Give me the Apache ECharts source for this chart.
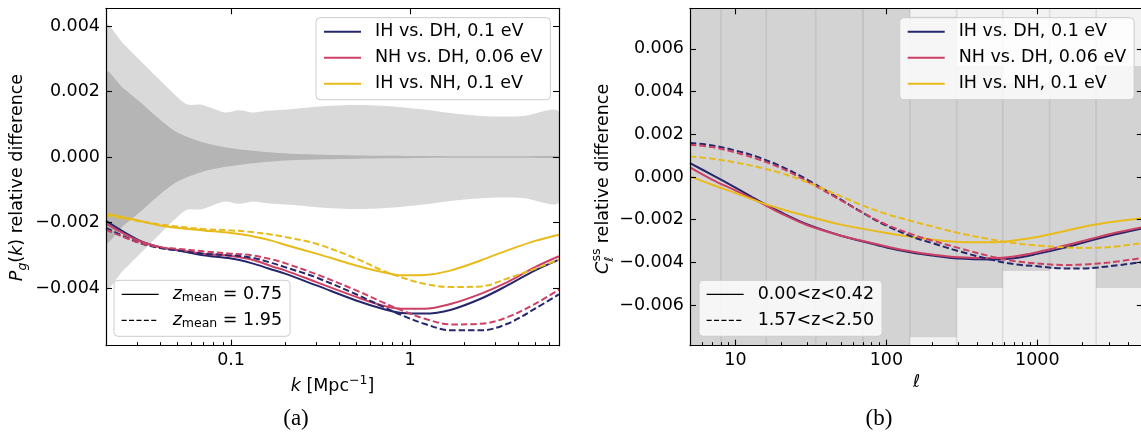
<!DOCTYPE html>
<html><head><meta charset="utf-8">
<script src="https://cdn.jsdelivr.net/npm/echarts@6/dist/echarts.min.js"></script>
<style>html,body{margin:0;padding:0;background:#fff}#c{width:1141px;height:432px}</style>
</head><body><div id="c"></div>
<script>
// ---------------- data ----------------
const legendNames = ['IH vs. DH, 0.1 eV', 'NH vs. DH, 0.06 eV', 'IH vs. NH, 0.1 eV'];
const zNamesLeft = ['z_mean = 0.75', 'z_mean = 1.95'];
const zNamesRight = ['0.00<z<0.42', '1.57<z<2.50'];

// panel (a): P_g(k)
const kRange = [0.02, 6.8];
const kTickLabels = [0.1, 1];
const kMinorTicks = [0.03,0.04,0.05,0.06,0.07,0.08,0.09,0.2,0.3,0.4,0.5,0.6,0.7,0.8,0.9,2,3,4,5,6];
const pgRange = [-0.00576, 0.00454];
const pgTicks = [-0.004, -0.002, 0, 0.002, 0.004];

const kBand = [0.02,0.025,0.031,0.0385,0.0477,0.0567,0.0673,0.0764,0.0926,0.11,0.133,0.158,0.214,0.328,0.503,0.772,1.19,1.82,2.79,4.29,6.8];
const pgOuterSigma = [0.00402,0.00346,0.00295,0.00244,0.00194,0.00161,0.0016,0.00151,0.00136,0.00143,0.00136,0.00141,0.00146,0.00155,0.00159,0.00155,0.00145,0.00132,0.00124,0.00125,0.00137];
const pgInnerSigma = [0.0026,0.0021,0.00168,0.00122,0.00082,0.00062,0.00047,0.00039,0.0003,0.00024,0.00019,0.00015,0.0001,0.00007,0.00005,0.00004,0.00003,0.000025,0.000025,0.000025,0.000025];

const kCurve = [0.02,0.03,0.04,0.05,0.07,0.1,0.13,0.17,0.2,0.3,0.5,0.7,0.9,1.2,1.7,2.5,3.5,5,6.8];
const pgIHDH_z075 = [-0.00195,-0.00252,-0.00275,-0.00285,-0.003,-0.0031,-0.00324,-0.00344,-0.00356,-0.00392,-0.00438,-0.00463,-0.00476,-0.00478,-0.00466,-0.00432,-0.00392,-0.00346,-0.00313];
const pgNHDH_z075 = [-0.00203,-0.00254,-0.00275,-0.00283,-0.00295,-0.00302,-0.00313,-0.00334,-0.00346,-0.00382,-0.00427,-0.00453,-0.00463,-0.00463,-0.00448,-0.00417,-0.00382,-0.00336,-0.00303];
const pgIHNH_z075 = [-0.00173,-0.00193,-0.00209,-0.00216,-0.00224,-0.00232,-0.00241,-0.00256,-0.00268,-0.00295,-0.00331,-0.00351,-0.00361,-0.0036,-0.00346,-0.00315,-0.00285,-0.00256,-0.00237];
const pgIHDH_z195 = [-0.00216,-0.0026,-0.00278,-0.00285,-0.00295,-0.003,-0.00307,-0.00324,-0.00336,-0.00368,-0.00419,-0.00456,-0.00483,-0.00509,-0.00529,-0.00529,-0.00509,-0.00463,-0.00419];
const pgNHDH_z195 = [-0.00222,-0.0026,-0.00275,-0.0028,-0.00288,-0.00295,-0.003,-0.00313,-0.00324,-0.00358,-0.00407,-0.00443,-0.00468,-0.00493,-0.00511,-0.00509,-0.00489,-0.00448,-0.00405];
const pgIHNH_z195 = [-0.00178,-0.00195,-0.00206,-0.00212,-0.0022,-0.00224,-0.00229,-0.00237,-0.00244,-0.00265,-0.0031,-0.00346,-0.00368,-0.00387,-0.00397,-0.00395,-0.00371,-0.00341,-0.00313];

// panel (b): C_ell
const ellRange = [5, 5000];
const ellTickLabels = [10, 100, 1000];
const ellMinorTicks = [6,7,8,9,20,30,40,50,60,70,80,90,200,300,400,500,600,700,800,900,2000,3000,4000];
const clRange = [-0.0079, 0.0079];
const clTicks = [-0.006, -0.004, -0.002, 0, 0.002, 0.004, 0.006];

const ellBinEdges = [5, 8, 16, 34, 70, 143, 292, 590, 1206, 2455, 5000];
const clBinSigma = [0.02, 0.016, 0.013, 0.011, 0.0095, 0.0075, 0.0052, 0.0044, 0.0043, 0.0052];

const ellCurve = [5,7,10,14,20,30,50,70,100,150,200,300,500,700,1000,1500,2000,3000,5000];
const clIHDH_lo = [0.00065,0.0001,-0.0005,-0.00108,-0.00165,-0.00222,-0.00275,-0.00302,-0.0033,-0.00355,-0.00368,-0.00382,-0.00386,-0.0038,-0.0036,-0.00332,-0.00308,-0.00275,-0.0024];
const clNHDH_lo = [0.00045,-0.00012,-0.00063,-0.00113,-0.0017,-0.00226,-0.00275,-0.003,-0.00325,-0.0035,-0.00363,-0.00376,-0.0038,-0.00372,-0.00352,-0.00322,-0.003,-0.00268,-0.00235];
const clIHNH_lo = [0.00003,-0.00036,-0.00075,-0.00114,-0.0015,-0.00184,-0.00223,-0.00243,-0.00262,-0.00281,-0.00293,-0.00304,-0.00306,-0.00297,-0.00281,-0.00254,-0.00234,-0.00212,-0.00192];
const clIHDH_hi = [0.00159,0.00148,0.00124,0.00094,0.0005,-0.00013,-0.00106,-0.00168,-0.00228,-0.00281,-0.00309,-0.00347,-0.00388,-0.00408,-0.00418,-0.00428,-0.00428,-0.00418,-0.00398];
const clNHDH_hi = [0.00151,0.0014,0.00115,0.00084,0.00042,-0.00021,-0.00109,-0.00168,-0.00223,-0.0027,-0.00297,-0.00332,-0.00373,-0.00393,-0.00405,-0.00412,-0.0041,-0.004,-0.00379];
const clIHNH_hi = [0.00096,0.00086,0.00068,0.00047,0.00019,-0.00025,-0.00091,-0.00134,-0.00173,-0.00208,-0.00231,-0.00262,-0.00293,-0.00309,-0.00321,-0.00329,-0.00332,-0.00328,-0.00309];

// ---------------- styling ----------------
const FONT = 'DejaVu Sans';
const FS = 17.5;
const colors = ['#25266b', '#cc4065', '#e8bb1b'];
const DASH = [6.5, 3];
const lg = Math.log10;

function tickFmtY(v) {
  if (Math.abs(v) < 1e-12) return '0.000';
  return (v < 0 ? '\u2212' : '') + Math.abs(v).toFixed(3);
}
function tickFmtX(v) {
  const p = Math.round(v);
  return p < 0 ? Math.pow(10, p).toFixed(-p) : String(Math.round(Math.pow(10, p)));
}

function lineSeries(name, xs, ys, color, dashed, xi, yi) {
  return {
    type: 'line', name, xAxisIndex: xi, yAxisIndex: yi,
    data: xs.map((x, i) => [lg(x), ys[i]]),
    symbol: 'none', showSymbol: false, smooth: 0.35, silent: true, z: 3,
    lineStyle: { color, width: 2, type: dashed ? DASH : 'solid' },
    itemStyle: { color }
  };
}
function dummySeries(name, dashed, xi, yi) {
  return {
    type: 'line', name, xAxisIndex: xi, yAxisIndex: yi, data: [],
    symbol: 'none', lineStyle: { color: '#000', width: 1.3, type: dashed ? [5, 2.4] : 'solid' },
    itemStyle: { color: '#000' }
  };
}

const axisLineStyle = { show: true, onZero: false, lineStyle: { color: '#000', width: 1.2 } };
function mainX(gi, range, labels, pos) {
  const vals = labels.map(lg);
  return {
    type: 'value', gridIndex: gi, position: pos, min: lg(range[0]), max: lg(range[1]), z: 10,
    axisLine: axisLineStyle, splitLine: { show: false },
    axisTick: { show: true, inside: true, length: 6, customValues: vals, lineStyle: { color: '#000', width: 1.1 } },
    axisLabel: pos === 'bottom'
      ? { show: true, customValues: vals, formatter: tickFmtX, margin: 6, color: '#000', fontSize: FS, fontFamily: FONT, showMinLabel: true, showMaxLabel: true }
      : { show: false }
  };
}
function minorX(gi, range, minors) {
  return {
    type: 'value', gridIndex: gi, position: 'bottom', min: lg(range[0]), max: lg(range[1]), z: 10,
    axisLine: { show: false, onZero: false }, splitLine: { show: false }, axisLabel: { show: false },
    axisTick: { show: true, inside: true, length: 3.5, customValues: minors.map(lg), lineStyle: { color: '#000', width: 1 } }
  };
}
function mainY(gi, range, ticks, pos) {
  return {
    type: 'value', gridIndex: gi, position: pos, min: range[0], max: range[1], z: 10,
    axisLine: axisLineStyle, splitLine: { show: false },
    axisTick: { show: true, inside: true, length: 6, customValues: ticks, lineStyle: { color: '#000', width: 1.1 } },
    axisLabel: pos === 'left'
      ? { show: true, customValues: ticks, formatter: tickFmtY, margin: 6, color: '#000', fontSize: FS, fontFamily: FONT }
      : { show: false }
  };
}
function hiddenY(gi, range) {
  return { type: 'value', gridIndex: gi, show: false, min: range[0], max: range[1], axisLine: { onZero: false } };
}

const gridA = { left: 106, top: 8.3, width: 453, height: 337.4, containLabel: false, outerBoundsMode: 'none' };
const gridB = { left: 690, top: 8.3, width: 452.8, height: 337.4, containLabel: false, outerBoundsMode: 'none' };

const series = [];
// panel (a) bands
series.push({
  type: 'custom', xAxisIndex: 0, yAxisIndex: 0, silent: true, z: 1, clip: true,
  data: kBand.map((k, i) => [lg(k), pgOuterSigma[i], pgInnerSigma[i]]),
  renderItem(params, api) {
    if (params.dataIndex !== 0) return null;
    const up = [], lo = [], iup = [], ilo = [];
    for (let i = 0; i < kBand.length; i++) {
      const x = lg(kBand[i]);
      up.push(api.coord([x, pgOuterSigma[i]]));
      lo.push(api.coord([x, -pgOuterSigma[i]]));
      iup.push(api.coord([x, pgInnerSigma[i]]));
      ilo.push(api.coord([x, -pgInnerSigma[i]]));
    }
    return {
      type: 'group', children: [
        { type: 'polygon', shape: { points: up.concat(lo.reverse()), smooth: 0.3 }, style: { fill: '#d9d9d9' } },
        { type: 'polygon', shape: { points: iup.concat(ilo.reverse()), smooth: 0.3 }, style: { fill: '#b5b5b5' } }
      ]
    };
  }
});
// panel (b) bins
series.push({
  type: 'custom', xAxisIndex: 3, yAxisIndex: 3, silent: true, z: 1, clip: true,
  data: clBinSigma.map((s, i) => [lg(ellBinEdges[i]), lg(ellBinEdges[i + 1]), s]),
  renderItem(params, api) {
    const x0 = api.value(0), x1 = api.value(1), s = api.value(2);
    const p0 = api.coord([x0, s]), p1 = api.coord([x1, -s]);
    const cs = params.coordSys;
    const ch = [{ type: 'rect', shape: { x: p0[0], y: p0[1], width: p1[0] - p0[0], height: p1[1] - p0[1] }, style: { fill: '#d3d3d3' } }];
    if (params.dataIndex > 0) {
      ch.push({ type: 'line', shape: { x1: p0[0], y1: cs.y, x2: p0[0], y2: cs.y + cs.height }, style: { stroke: 'rgba(0,0,0,0.09)', lineWidth: 1.6 } });
    }
    return { type: 'group', children: ch };
  }
});

const leftSolid = [pgIHDH_z075, pgNHDH_z075, pgIHNH_z075];
const leftDashed = [pgIHDH_z195, pgNHDH_z195, pgIHNH_z195];
const rightSolid = [clIHDH_lo, clNHDH_lo, clIHNH_lo];
const rightDashed = [clIHDH_hi, clNHDH_hi, clIHNH_hi];
for (let i = 0; i < 3; i++) series.push(lineSeries(legendNames[i], kCurve, leftSolid[i], colors[i], false, 0, 0));
for (let i = 0; i < 3; i++) series.push(lineSeries(legendNames[i], kCurve, leftDashed[i], colors[i], true, 0, 0));
for (let i = 0; i < 3; i++) series.push(lineSeries(legendNames[i], ellCurve, rightSolid[i], colors[i], false, 3, 3));
for (let i = 0; i < 3; i++) series.push(lineSeries(legendNames[i], ellCurve, rightDashed[i], colors[i], true, 3, 3));
series.push(dummySeries(zNamesLeft[0], false, 0, 0));
series.push(dummySeries(zNamesLeft[1], true, 0, 0));
series.push(dummySeries(zNamesRight[0], false, 3, 3));
series.push(dummySeries(zNamesRight[1], true, 3, 3));

const legendBase = {
  orient: 'vertical', selectedMode: false, itemWidth: 37, itemHeight: 20, itemGap: 6,
  padding: [4, 8, 6, 7], backgroundColor: 'rgba(255,255,255,0.8)', borderColor: '#cccccc', borderWidth: 1, borderRadius: 4,
  itemStyle: { opacity: 0 },
  textStyle: { color: '#000', fontSize: FS, fontFamily: FONT, lineHeight: 20, padding: [0, 0, 0, 9],
    rich: {
      it: { fontStyle: 'italic', fontSize: FS, fontFamily: FONT, lineHeight: 20, color: '#000' },
      sub: { fontSize: 12.5, fontFamily: FONT, lineHeight: 12, verticalAlign: 'bottom', color: '#000' },
      n: { fontSize: FS, fontFamily: FONT, lineHeight: 20, color: '#000' }
    } }
};
function zFmt(name) {
  const m = name.match(/^z_mean = (.*)$/);
  return m ? '{it|z}{sub|mean}{n| = ' + m[1] + '}' : name;
}
const legends = [
  Object.assign({}, legendBase, { left: 316, top: 17.7, data: legendNames, lineStyle: { width: 2 } }),
  Object.assign({}, legendBase, { left: 899.7, top: 17.7, data: legendNames, lineStyle: { width: 2 } }),
  Object.assign({}, legendBase, { left: 114, top: 280.3, data: zNamesLeft, formatter: zFmt, lineStyle: { width: 1.3 } }),
  Object.assign({}, legendBase, { left: 699, top: 280.3, data: zNamesRight, lineStyle: { width: 1.3 } })
];

const richBase = {
  it: { fontStyle: 'italic', fontSize: FS, fontFamily: FONT, lineHeight: 24, fill: '#000' },
  n: { fontSize: FS, fontFamily: FONT, lineHeight: 24, fill: '#000' },
  sub: { fontStyle: 'italic', fontSize: 12.5, fontFamily: FONT, lineHeight: 12, verticalAlign: 'bottom', fill: '#000' },
  sup: { fontSize: 12.5, fontFamily: FONT, lineHeight: 12, verticalAlign: 'top', fill: '#000' }
};
function txt(x, y, text, size, opts) {
  return Object.assign({ type: 'text', x, y, silent: true, z: 20,
    style: Object.assign({ text, fill: '#000', fontSize: size, fontFamily: FONT, align: 'center', verticalAlign: 'middle' }, (opts && opts.style) || {}) },
    (opts && opts.el) || {});
}
const R = Math.PI / 2;
const graphic = [
  // y label (a)
  { type: 'text', x: 17, y: 177.5, rotation: R, silent: true, z: 20,
    style: { text: '{it|P}{sub|g}{n|(}{it|k}{n|) relative difference}', rich: richBase, align: 'center', verticalAlign: 'middle', fill: '#000', fontSize: FS, fontFamily: FONT } },
  // x label (a)
  { type: 'text', x: 332.5, y: 386, silent: true, z: 20,
    style: { text: '{it|k}{n| [Mpc}{sup|\u22121}{n|]}', rich: richBase, align: 'center', verticalAlign: 'middle', fill: '#000', fontSize: FS, fontFamily: FONT } },
  // y label (b) pieces
  txt(603, 274, 'C', FS, { style: { fontStyle: 'italic', align: 'left' }, el: { rotation: R } }),
  txt(596.5, 261.5, 'ss', 12.5, { style: { align: 'left' }, el: { rotation: R } }),
  txt(609.5, 261.5, '\u2113', 12.5, { style: { align: 'left', fontStyle: 'italic' }, el: { rotation: R } }),
  txt(603, 243.2, 'relative difference', FS, { style: { align: 'left' }, el: { rotation: R } }),
  // x label (b)
  txt(916.5, 382, '\u2113', FS, { style: { fontStyle: 'italic' } }),
  // captions
  txt(296, 419, '(a)', 23, { style: { fontFamily: 'Liberation Serif' } }),
  txt(879, 419, '(b)', 23, { style: { fontFamily: 'Liberation Serif' } })
];

const option = {
  animation: false,
  backgroundColor: '#ffffff',
  grid: [
    gridA, Object.assign({}, gridA),
    Object.assign({ show: true, backgroundColor: '#f2f2f2', borderWidth: 0 }, gridB), Object.assign({}, gridB)
  ],
  xAxis: [
    mainX(0, kRange, kTickLabels, 'bottom'),
    mainX(0, kRange, kTickLabels, 'top'),
    minorX(1, kRange, kMinorTicks),
    mainX(2, ellRange, ellTickLabels, 'bottom'),
    mainX(2, ellRange, ellTickLabels, 'top'),
    minorX(3, ellRange, ellMinorTicks)
  ],
  yAxis: [
    mainY(0, pgRange, pgTicks, 'left'),
    mainY(0, pgRange, pgTicks, 'right'),
    hiddenY(1, pgRange),
    mainY(2, clRange, clTicks, 'left'),
    mainY(2, clRange, clTicks, 'right'),
    hiddenY(3, clRange)
  ],
  legend: legends,
  series,
  graphic
};
const chart = echarts.init(document.getElementById('c'), null, { renderer: 'canvas' });
chart.setOption(option);
</script>
</body></html>
